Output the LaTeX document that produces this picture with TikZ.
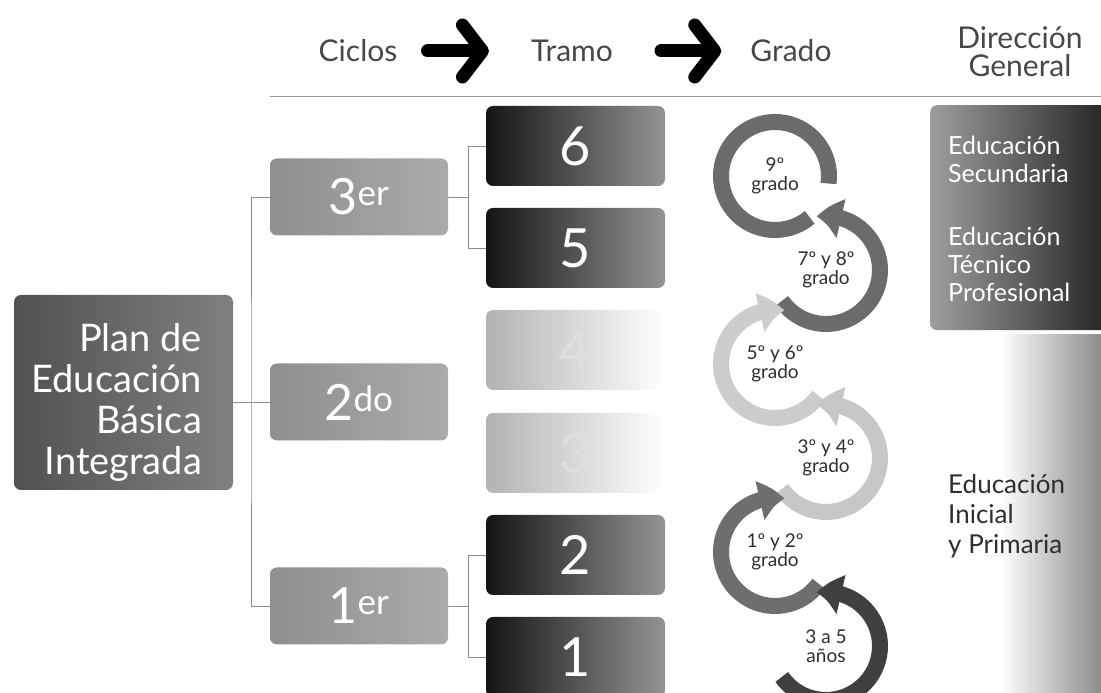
\documentclass[tikz,border=0pt]{standalone}
\usepackage{fontspec}
\setmainfont{Lato}
\usetikzlibrary{arrows.meta,bending}
\definecolor{tinta}{HTML}{2E2E2E}
\tikzset{
  caja/.style={rounded corners=7pt, inner sep=0pt},
  ciclo/.style={caja, minimum width=178pt, minimum height=77pt, left color=black!44, right color=black!33, text=white, font=\fontsize{50}{50}\selectfont},
  tramo/.style={caja, minimum width=179pt, minimum height=80pt, left color=black!92, right color=black!42, text=white, font=\fontsize{54}{54}\selectfont},
  tramoclaro/.style={tramo, left color=black!30, middle color=black!10, right color=white, text=black!13},
  liga/.style={draw=black!45, line width=0.9pt},
  rumbo/.style={line width=13pt, line cap=round, -{Straight Barb[round, length=20pt, width=52pt]}},
  anillo/.style={line width=16pt},
  flecha/.style={-{Triangle[width=38pt, length=25pt, bend]}},
  grado/.style={align=center, text=tinta, font=\fontsize{19}{19}\selectfont},
  titulo/.style={inner sep=0pt, align=center, text=black!72, font=\fontsize{30}{28}\selectfont},
}
\begin{document}
\begin{tikzpicture}[x=1pt, y=1pt]
  \useasboundingbox (0,0) rectangle (1101,693);
  % encabezado
  \node[titulo] (ciclos) at (358,642) {Ciclos};
  \node[titulo] (tramo) at (572,642) {Tramo};
  \node[titulo] (grado) at (791,642) {Grado};
  \node[titulo] (direccion) at (1020,641) {Dirección\\General};
  \draw[rumbo, shorten <=30pt, shorten >=42pt] (ciclos) -- (tramo);
  \draw[rumbo, shorten <=48pt, shorten >=29pt] (tramo) -- (grado);
  \draw[black!40, line width=1pt] (270,596) -- (1101,596);
  % plan
  \node[caja, minimum width=219pt, minimum height=195pt, left color=black!68, right color=black!50] (plan) at (123.5,300.5) {};
  \node[anchor=east, inner sep=0pt, align=right, text=white, font=\fontsize{38}{41}\selectfont] (plantxt) at ([shift={(-31pt,-10pt)}]plan.east) {Plan de\\Educación\\Básica\\Integrada};
  % ciclos y tramos
  \node[ciclo] (c3) at (359,496) {3\textsuperscript{er}};
  \node[ciclo] (c2) at (359,291) {2\textsuperscript{do}};
  \node[ciclo] (c1) at (359,87) {1\textsuperscript{er}};
  \foreach \n/\y/\s in {6/547/tramo,5/445/tramo,4/343/tramoclaro,3/240/tramoclaro,2/138/tramo,1/36/tramo}
    \node[\s] (t\n) at (575.5,\y) {\n};
  \coordinate (eje) at (251,291);
  \draw[liga] (plan.east |- c2.west) -- (c2.west);
  \draw[liga] (c3.west) -| (eje) |- (c1.west);
  \draw[liga] (c3.east) -- ++(20,0) coordinate (b3);
  \draw[liga] (t6.west) -| (b3) |- (t5.west);
  \draw[liga] (c1.east) -- ++(20,0) coordinate (b1);
  \draw[liga] (t2.west) -| (b1) |- (t1.west);
  % grados
  \node[grado] (g9) at (775,517) {9º\\grado};
  \node[grado] (g78) at (826,423) {7º y 8º\\grado};
  \node[grado] (g56) at (775,329) {5º y 6º\\grado};
  \node[grado] (g34) at (826,235) {3º y 4º\\grado};
  \node[grado] (g12) at (775,141) {1º y 2º\\grado};
  \node[grado] (g35) at (826,47) {3 a 5\\años};
  \draw[anillo, draw=black!58] ([shift={(-50:54)}]g9.center) arc[start angle=-50, end angle=-368, radius=54];
  \draw[anillo, flecha, draw=black!58] ([shift={(215:54)}]g78.center) arc[start angle=215, end angle=460, radius=54];
  \draw[anillo, flecha, draw=black!20] ([shift={(-36:54)}]g56.center) arc[start angle=-36, end angle=-280, radius=54];
  \draw[anillo, flecha, draw=black!22] ([shift={(215:54)}]g34.center) arc[start angle=215, end angle=460, radius=54];
  \draw[anillo, flecha, draw=black!57] ([shift={(-36:54)}]g12.center) arc[start angle=-36, end angle=-280, radius=54];
  \draw[anillo, flecha, draw=black!75] ([shift={(215:54)}]g35.center) arc[start angle=215, end angle=460, radius=54];
  % direccion general
  \shade[left color=white, right color=black!45] (1000,0) rectangle (1101,358);
  \node[caja, anchor=north west, minimum width=185pt, minimum height=225pt, left color=black!38, right color=black!88] (sec) at (930,588) {};
  \node[anchor=north west, inner sep=0pt, align=left, text=white, font=\fontsize{25}{28}\selectfont] (sectxt) at ([shift={(18pt,-31pt)}]sec.north west) {Educación\\Secundaria\\[35pt]Educación\\Técnico\\Profesional};
  \node[anchor=north west, inner sep=0pt, align=left, text=tinta, font=\fontsize{26}{30}\selectfont] (inicial) at (948,219) {Educación\\Inicial\\y Primaria};
\end{tikzpicture}
\end{document}
